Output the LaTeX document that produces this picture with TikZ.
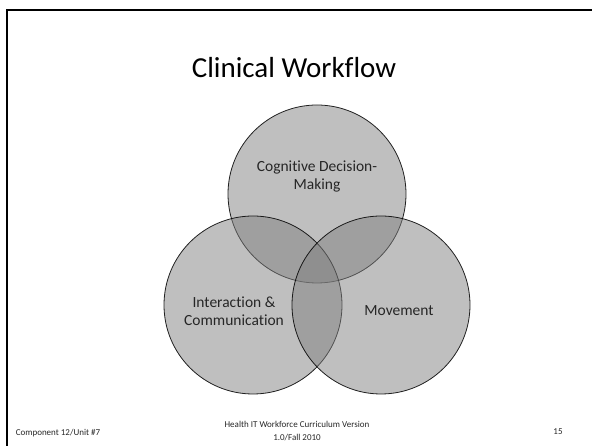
\documentclass[tikz,border=0pt]{standalone}
\usepackage{fontspec}
\setmainfont{Carlito}[Ligatures=NoCommon]

\begin{document}
\begin{tikzpicture}[x=1pt, y=1pt,
  ring/.style={draw, circle, fill=gray, fill opacity=0.5, draw opacity=0.85, minimum size=178pt, inner sep=0pt, line width=0.8pt},
  lbl/.style={align=center, text=black!85, font=\fontsize{15.5}{18}\selectfont},
  foot/.style={align=center, text=black!85, font=\fontsize{9}{12.5}\selectfont}]
\useasboundingbox (0,0) rectangle (592,446);
\draw[line width=2.2pt] (7,0) |- (592,436);
\node(title) at(294,378){\fontsize{29}{35}\selectfont Clinical Workflow};
\node[ring](cog) at(317,252){};
\node[ring](inter) at(253,141){};
\node[ring](move) at(381,141){};
\node[lbl](cogt) at(317,269){Cognitive Decision-\\Making};
\node[lbl](intert) at(234,135){Interaction \&\\Communication};
\node[lbl](movet) at(399,135){Movement};
\node[foot](comp) at(58,13){Component 12/Unit \#7};
\node[foot](hit) at(297,15){Health IT Workforce Curriculum Version\\1.0/Fall 2010};
\node[foot](pg) at(558,14){15};
\end{tikzpicture}
\end{document}
